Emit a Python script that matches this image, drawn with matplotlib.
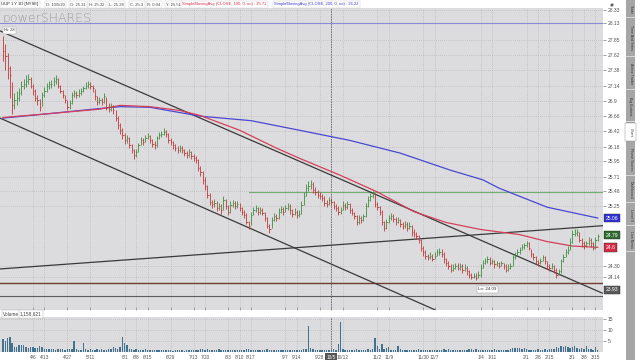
import numpy as np
import pandas as pd
import matplotlib
matplotlib.use('Agg')
import matplotlib.pyplot as plt
import matplotlib.transforms as mtransforms
from matplotlib.patches import Rectangle, FancyArrowPatch

# ---- data (UUP daily, Mar 2020 - Mar 2021) ----
dates = pd.bdate_range('2020-03-18', periods=260)

close = [27.69, 27.61, 27.41, 27.30, 26.83, 26.91, 26.94, 27.03, 27.14, 27.16,
         27.22, 27.25, 27.14, 27.06, 26.95, 26.91, 26.80, 26.99, 27.06, 27.13,
         27.16, 27.17, 27.22, 27.24, 27.14, 27.06, 26.99, 26.91, 26.81, 26.86,
         26.99, 27.02, 26.99, 27.03, 27.06, 27.10, 27.14, 27.16, 27.13, 27.10,
         26.97, 26.88, 26.91, 26.88, 26.97, 26.81, 26.78, 26.81, 26.75, 26.63,
         26.52, 26.44, 26.36, 26.28, 26.31, 26.20, 26.13, 26.05, 26.10, 26.20,
         26.28, 26.25, 26.31, 26.35, 26.28, 26.22, 26.20, 26.31, 26.36, 26.38,
         26.41, 26.38, 26.28, 26.25, 26.20, 26.16, 26.13, 26.16, 26.13, 26.08,
         26.05, 26.10, 26.03, 26.00, 25.97, 25.84, 25.78, 25.66, 25.56, 25.42,
         25.31, 25.28, 25.30, 25.22, 25.25, 25.19, 25.34, 25.25, 25.16, 25.27,
         25.30, 25.25, 25.28, 25.22, 25.16, 25.11, 25.00, 24.94, 25.11, 25.19,
         25.22, 25.16, 25.19, 25.14, 25.06, 24.94, 24.88, 25.03, 25.09, 25.06,
         25.16, 25.20, 25.16, 25.22, 25.25, 25.19, 25.13, 25.16, 25.11, 25.13,
         25.27, 25.41, 25.53, 25.56, 25.59, 25.50, 25.47, 25.42, 25.41, 25.38,
         25.30, 25.28, 25.34, 25.31, 25.25, 25.22, 25.16, 25.19, 25.27, 25.23,
         25.28, 25.19, 25.14, 25.09, 25.00, 25.06, 25.03, 25.09, 25.25, 25.34,
         25.41, 25.44, 25.28, 25.23, 25.16, 25.00, 24.91, 25.00, 25.06, 25.09,
         25.05, 25.00, 25.03, 24.97, 24.94, 24.97, 24.91, 24.94, 24.84, 24.81,
         24.78, 24.72, 24.59, 24.53, 24.47, 24.44, 24.47, 24.42, 24.47, 24.52,
         24.53, 24.50, 24.41, 24.35, 24.31, 24.25, 24.28, 24.31, 24.28, 24.30,
         24.25, 24.28, 24.22, 24.16, 24.13, 24.15, 24.12, 24.16, 24.28, 24.35,
         24.38, 24.41, 24.36, 24.38, 24.33, 24.35, 24.31, 24.35, 24.30, 24.25,
         24.28, 24.31, 24.44, 24.47, 24.53, 24.56, 24.61, 24.63, 24.66, 24.59,
         24.49, 24.44, 24.38, 24.35, 24.39, 24.44, 24.38, 24.31, 24.28, 24.31,
         24.25, 24.17, 24.22, 24.38, 24.44, 24.53, 24.56, 24.69, 24.81, 24.83,
         24.84, 24.72, 24.66, 24.63, 24.66, 24.72, 24.66, 24.59, 24.72, 24.77]

high = [27.92, 27.80, 27.66, 27.45, 27.20, 27.02, 27.05, 27.10, 27.22, 27.25,
        27.30, 27.33, 27.27, 27.16, 27.08, 26.99, 26.93, 27.04, 27.12, 27.18,
        27.22, 27.23, 27.27, 27.30, 27.26, 27.15, 27.07, 27.00, 26.92, 26.92,
        27.04, 27.07, 27.05, 27.08, 27.11, 27.14, 27.19, 27.21, 27.19, 27.15,
        27.08, 26.97, 26.96, 26.94, 27.02, 26.96, 26.86, 26.86, 26.83, 26.76,
        26.66, 26.55, 26.47, 26.40, 26.36, 26.33, 26.23, 26.14, 26.14, 26.24,
        26.33, 26.32, 26.36, 26.40, 26.37, 26.30, 26.27, 26.35, 26.41, 26.43,
        26.47, 26.45, 26.39, 26.31, 26.27, 26.23, 26.19, 26.21, 26.19, 26.15,
        26.11, 26.14, 26.12, 26.07, 26.04, 25.98, 25.88, 25.80, 25.70, 25.58,
        25.45, 25.35, 25.36, 25.32, 25.30, 25.28, 25.40, 25.36, 25.26, 25.32,
        25.35, 25.33, 25.33, 25.30, 25.24, 25.18, 25.14, 25.02, 25.16, 25.24,
        25.27, 25.24, 25.24, 25.22, 25.16, 25.08, 24.97, 25.08, 25.14, 25.12,
        25.21, 25.25, 25.23, 25.27, 25.30, 25.28, 25.20, 25.21, 25.18, 25.18,
        25.33, 25.47, 25.60, 25.64, 25.66, 25.62, 25.55, 25.50, 25.47, 25.44,
        25.40, 25.34, 25.39, 25.37, 25.33, 25.28, 25.25, 25.24, 25.32, 25.30,
        25.33, 25.30, 25.22, 25.16, 25.11, 25.11, 25.09, 25.13, 25.30, 25.40,
        25.46, 25.49, 25.45, 25.31, 25.25, 25.18, 25.02, 25.05, 25.11, 25.14,
        25.12, 25.07, 25.08, 25.04, 25.00, 25.02, 24.99, 24.99, 24.95, 24.88,
        24.84, 24.79, 24.73, 24.62, 24.55, 24.50, 24.52, 24.49, 24.52, 24.57,
        24.59, 24.57, 24.52, 24.43, 24.38, 24.33, 24.33, 24.36, 24.35, 24.35,
        24.33, 24.33, 24.30, 24.25, 24.20, 24.20, 24.19, 24.22, 24.33, 24.40,
        24.43, 24.46, 24.44, 24.42, 24.40, 24.39, 24.37, 24.39, 24.36, 24.33,
        24.33, 24.36, 24.48, 24.52, 24.57, 24.60, 24.65, 24.67, 24.70, 24.68,
        24.58, 24.51, 24.46, 24.40, 24.43, 24.48, 24.46, 24.39, 24.34, 24.35,
        24.32, 24.27, 24.26, 24.42, 24.50, 24.58, 24.62, 24.74, 24.87, 24.89,
        24.89, 24.84, 24.74, 24.70, 24.70, 24.76, 24.74, 24.68, 24.76, 24.81]

low = [27.52, 27.38, 27.25, 26.95, 26.70, 26.78, 26.84, 26.90, 27.00, 27.08,
       27.12, 27.16, 27.10, 27.00, 26.90, 26.84, 26.74, 26.82, 26.96, 27.04,
       27.08, 27.10, 27.14, 27.17, 27.10, 27.02, 26.94, 26.86, 26.76, 26.78,
       26.85, 26.96, 26.94, 26.96, 27.00, 27.04, 27.08, 27.10, 27.08, 27.04,
       26.92, 26.84, 26.85, 26.83, 26.86, 26.76, 26.72, 26.74, 26.70, 26.58,
       26.46, 26.38, 26.30, 26.22, 26.24, 26.16, 26.08, 25.98, 26.02, 26.10,
       26.20, 26.21, 26.26, 26.30, 26.24, 26.17, 26.15, 26.18, 26.30, 26.33,
       26.36, 26.34, 26.24, 26.20, 26.15, 26.11, 26.08, 26.10, 26.08, 26.04,
       26.00, 26.02, 25.99, 25.95, 25.92, 25.80, 25.72, 25.60, 25.50, 25.38,
       25.26, 25.22, 25.24, 25.17, 25.19, 25.13, 25.18, 25.20, 25.11, 25.14,
       25.24, 25.20, 25.22, 25.17, 25.11, 25.06, 24.96, 24.88, 24.95, 25.10,
       25.16, 25.11, 25.13, 25.10, 25.01, 24.90, 24.82, 24.90, 25.02, 25.01,
       25.05, 25.14, 25.11, 25.15, 25.19, 25.13, 25.08, 25.10, 25.06, 25.08,
       25.12, 25.26, 25.40, 25.49, 25.52, 25.45, 25.42, 25.37, 25.36, 25.33,
       25.25, 25.23, 25.27, 25.26, 25.20, 25.17, 25.11, 25.13, 25.18, 25.18,
       25.20, 25.14, 25.10, 25.04, 24.95, 24.97, 24.98, 25.02, 25.08, 25.24,
       25.33, 25.37, 25.24, 25.18, 25.10, 24.95, 24.85, 24.89, 24.98, 25.03,
       25.00, 24.95, 24.98, 24.92, 24.89, 24.91, 24.86, 24.88, 24.78, 24.76,
       24.73, 24.66, 24.54, 24.47, 24.42, 24.40, 24.42, 24.38, 24.41, 24.46,
       24.48, 24.45, 24.36, 24.30, 24.26, 24.21, 24.23, 24.26, 24.24, 24.25,
       24.20, 24.23, 24.17, 24.12, 24.10, 24.11, 24.09, 24.11, 24.14, 24.28,
       24.33, 24.36, 24.32, 24.33, 24.28, 24.30, 24.27, 24.30, 24.26, 24.21,
       24.23, 24.26, 24.30, 24.42, 24.46, 24.50, 24.55, 24.58, 24.61, 24.55,
       24.45, 24.40, 24.33, 24.30, 24.34, 24.38, 24.33, 24.26, 24.23, 24.26,
       24.20, 24.12, 24.16, 24.20, 24.37, 24.45, 24.50, 24.55, 24.66, 24.77,
       24.78, 24.68, 24.60, 24.58, 24.60, 24.64, 24.60, 24.55, 24.58, 24.70]

volume = [5.9, 5.1, 6.4, 7.0, 4.3, 2.3, 2.5, 3.3, 3.0, 3.4,
          2.2, 1.9, 2.4, 2.1, 1.8, 2.0, 2.8, 2.2, 1.3, 1.2,
          1.5, 1.2, 1.4, 1.1, 1.3, 1.6, 1.2, 1.0, 1.4, 1.2,
          1.3, 5.1, 1.2, 1.0, 1.1, 4.3, 1.3, 1.0, 1.2, 1.1,
          0.9, 1.2, 1.0, 1.4, 1.1, 0.9, 1.3, 1.6, 2.2, 1.8,
          1.5, 2.4, 7.0, 4.3, 3.4, 1.6, 1.2, 1.0, 1.3, 1.1,
          1.0, 0.9, 1.2, 0.8, 1.0, 1.1, 0.9, 0.7, 1.0, 0.8,
          0.9, 0.7, 0.8, 1.0, 0.6, 0.8, 0.9, 0.7, 0.8, 0.6,
          0.7, 0.9, 0.8, 1.0, 0.9, 1.1, 1.2, 1.4, 1.0, 1.3,
          1.1, 0.9, 1.0, 0.8, 1.2, 0.9, 1.0, 0.8, 1.1, 0.9,
          0.8, 1.0, 0.9, 1.1, 0.8, 1.0, 1.3, 1.2, 0.9, 0.8,
          0.9, 0.7, 0.8, 1.0, 0.9, 1.2, 1.1, 0.9, 0.8, 0.7,
          0.9, 0.8, 1.0, 0.7, 0.8, 0.9, 0.7, 1.0, 0.8, 1.1,
          1.0, 1.3, 1.5, 12.0, 1.8, 1.2, 1.0, 0.9, 1.1, 0.8,
          0.9, 0.7, 1.0, 0.8, 1.2, 0.9, 3.5, 13.6, 1.4, 1.0,
          0.8, 0.9, 1.1, 0.7, 1.2, 0.8, 0.9, 1.0, 0.7, 1.3,
          1.0, 1.4, 6.4, 2.8, 1.6, 3.6, 1.2, 2.0, 2.2, 1.0,
          0.9, 1.1, 2.8, 1.3, 0.8, 0.9, 0.7, 0.8, 1.0, 0.7,
          0.9, 1.2, 1.0, 1.1, 0.8, 0.9, 1.0, 0.7, 0.8, 1.1,
          0.9, 1.0, 1.2, 0.8, 1.3, 1.0, 0.9, 1.1, 0.8, 1.0,
          0.9, 1.1, 1.0, 1.3, 1.2, 1.0, 1.4, 1.1, 0.9, 1.0,
          0.8, 1.1, 0.9, 1.0, 1.2, 0.8, 1.0, 0.9, 1.1, 0.8,
          1.0, 1.3, 1.9, 1.8, 2.0, 1.7, 1.6, 1.9, 1.5, 1.0,
          0.9, 1.0, 0.8, 1.2, 0.9, 1.1, 1.3, 1.0, 1.6, 1.2,
          1.4, 2.1, 1.8, 2.6, 2.2, 2.8, 2.4, 1.9, 2.2, 2.6,
          1.7, 1.5, 2.0, 1.3, 2.8, 1.6, 1.2, 1.0, 2.5, 1.1]

# moving averages, sampled along the drawn curves (bar index, price)
sma100_idx = [0, 20, 42, 51, 64, 77, 86, 103, 119, 129, 147, 163, 179, 193, 208, 225, 237, 248, 259]
sma100_val = [26.64, 26.70, 26.77, 26.83, 26.81, 26.75, 26.67, 26.44, 26.16, 26.00,
              25.73, 25.47, 25.16, 24.99, 24.88, 24.80, 24.69, 24.62, 24.60]
sma200_idx = [0, 20, 42, 51, 64, 86, 108, 129, 151, 173, 195, 209, 216, 237, 259]
sma200_val = [26.63, 26.70, 26.78, 26.81, 26.80, 26.66, 26.59, 26.44, 26.28, 26.08,
              25.81, 25.66, 25.53, 25.23, 25.06]

# drawn trend lines (bar index pairs, price pairs)
channel_top_idx, channel_top_val = [-1.3, 261], [28.00, 23.88]
channel_low_idx, channel_low_val = [-1.3, 188], [26.63, 23.62]
rising_idx, rising_val = [-1.3, 261.3], [24.26, 24.94]
green_from, green_level = 107, 25.47
brown_level = 24.04
gray_level = 23.84
hi_level = 28.13
lo_idx, lo_val = 206, 24.09

label_dates = ['2020-04-06', '2020-04-13', '2020-04-27', '2020-05-11', '2020-06-01',
               '2020-06-08', '2020-06-15', '2020-06-29', '2020-07-13', '2020-07-20',
               '2020-08-03', '2020-08-10', '2020-08-17', '2020-09-07', '2020-09-14',
               '2020-09-28', '2020-10-05', '2020-10-12', '2020-11-02', '2020-11-09',
               '2020-11-30', '2020-12-07', '2021-01-04', '2021-01-11', '2021-02-01',
               '2021-02-08', '2021-02-15', '2021-03-01', '2021-03-08', '2021-03-15']
label_text = ['4/6', '4/13', '4/27', '5/11', '6/1', '6/8', '6/15', '6/29', '7/13', '7/20',
              '8/3', '8/10', '8/17', '9/7', '9/14', '9/28', '10/5', '10/12', '11/2', '11/9',
              '11/30', '12/7', '1/4', '1/11', '2/1', '2/8', '2/15', '3/1', '3/8', '3/15']
cursor_date = '2020-10-05'

price_ticks = [28.33, 28.13, 27.85, 27.62, 27.38, 27.14, 26.9, 26.66, 26.42, 26.18,
               25.95, 25.71, 25.48, 25.25, 24.30, 24.14]
price_tick_labels = ['28.33', '28.13', '27.85', '27.62', '27.38', '27.14', '26.9', '26.66',
                     '26.42', '26.18', '25.95', '25.71', '25.48', '25.25', '24.30', '24.14']
badge_vals = [25.06, 24.79, 24.60, 23.93]
badge_text = ['25.06', '24.79', '24.6', '23.93']
badge_cols = ['#3232d6', '#2f6a2f', '#d42c44', '#5a5a5a']
vol_ticks = [5, 10, 15]

header = [('UUP 1 Y 1D [NYSE]', 1, '#222222'), ('D: 10/5/20', 46, '#444444'),
          ('O: 25.31', 70, '#444444'), ('H: 25.32', 89, '#444444'),
          ('L: 25.28', 109, '#444444'), ('C: 25.3', 130, '#444444'),
          ('R: 0.04', 147, '#444444'), ('Y: 25.51', 166, '#444444'),
          ('SimpleMovingAvg (CLOSE, 100, 0, no) : 25.71', 182, '#d03048'),
          ('SimpleMovingAvg (CLOSE, 200, 0, no) : 26.22', 274, '#3a3ad0')]
tabs = [('Trade', 2, 18), ('Time And Sales', 19, 57), ('Active Trader', 58, 90),
        ('Big Buttons', 91, 122), ('Chart', 123, 141), ('Phase Scores', 142, 176),
        ('Dashboard', 177, 203), ('Level II', 204, 226), ('Live News', 227, 252)]

# ---- figure ----
plt.rcParams['font.family'] = ['Liberation Sans', 'DejaVu Sans']
W, H = 640, 360
fig = plt.figure(figsize=(6.4, 3.6), dpi=100)
fig.patch.set_facecolor('white')

def fx(px):
    return px / W

def fy(py):
    return 1 - py / H

panel_bg = '#dcdcde'
grid_kw = dict(color='#aeaeb2', linestyle=(0, (1, 2)), linewidth=0.5)

ax = fig.add_axes([0, fy(310), fx(603), (310 - 8) / H])
axv = fig.add_axes([0, fy(352), fx(603), (352 - 317) / H], sharex=ax)
for a in (ax, axv):
    a.set_facecolor(panel_bg)
    for s in a.spines.values():
        s.set_visible(False)

x = np.arange(len(close))
cl = np.array(close)
up = np.r_[False, cl[1:] >= cl[:-1]]
cols = np.where(up, '#3f8f3f', '#c23838')

label_idx = dates.searchsorted(pd.to_datetime(label_dates))
cursor_idx = dates.searchsorted(pd.Timestamp(cursor_date))

# grid
for a in (ax, axv):
    for xi in label_idx:
        a.axvline(xi, zorder=0, **grid_kw)
for t in price_ticks:
    ax.axhline(t, zorder=0, **grid_kw)
for t in vol_ticks:
    axv.axhline(t, zorder=0, **grid_kw)
for a in (ax, axv):
    a.axvline(cursor_idx, color='#6a6a70', lw=0.6, ls=(0, (2, 1)), zorder=1)

# levels and trend lines
ax.axhline(hi_level, color='#8a8ad8', lw=0.8, zorder=2)
ax.axhline(brown_level, color='#6e3f30', lw=1.0, zorder=2)
ax.axhline(gray_level, color='#5c5c5c', lw=0.8, zorder=2)
ax.plot([green_from, x[-1] + 2], [green_level, green_level], color='#6fae6f', lw=0.8, zorder=2)
ax.plot(channel_top_idx, channel_top_val, color='#3a3a3a', lw=0.9, zorder=2)
ax.plot(channel_low_idx, channel_low_val, color='#3a3a3a', lw=0.9, zorder=2)
ax.plot(rising_idx, rising_val, color='#3a3a3a', lw=0.9, zorder=2)

# moving averages
ax.plot(sma200_idx, sma200_val, color='#4848d4', lw=0.9, zorder=3)
ax.plot(sma100_idx, sma100_val, color='#d4405c', lw=0.9, zorder=3)

# OHLC bars (high-low + close tick)
ax.vlines(x, low, high, colors=cols, lw=0.6, zorder=4)
ax.hlines(close, x, x + 0.55, colors=cols, lw=0.6, zorder=4)

ax.set_xlim(-1.3, 261.3)
ax.set_ylim(23.615, 28.36)

ax.yaxis.tick_right()
ax.set_yticks(price_ticks)
ax.set_yticklabels(price_tick_labels)
ax.tick_params(axis='y', labelsize=3.6, colors='#555555', length=2, width=0.4, pad=1.5)
ax.set_xticks(label_idx)
ax.tick_params(axis='x', direction='in', length=2, width=0.4, colors='#777777',
               labelbottom=False)

# price badges on the right axis
btrans = mtransforms.blended_transform_factory(ax.transAxes, ax.transData)
for v, t, c in zip(badge_vals, badge_text, badge_cols):
    ax.text(1.004, v, t, transform=btrans, fontsize=3.6, color='white', ha='left',
            va='center', clip_on=False, zorder=6,
            bbox=dict(boxstyle='square,pad=0.35', fc=c, ec='#222222', lw=0.3))

# Hi / Lo labels
ax.text(0.6, hi_level - 0.12, 'Hi: 28', fontsize=3.0, color='#333333', va='center',
        ha='left', zorder=6,
        bbox=dict(boxstyle='square,pad=0.3', fc='white', ec='#999999', lw=0.3))
ax.text(lo_idx + 1, lo_val - 0.15, 'Lo: 24.09', fontsize=3.2, color='#333333',
        va='center', ha='left', zorder=6,
        bbox=dict(boxstyle='square,pad=0.3', fc='white', ec='#999999', lw=0.3))

# volume
axv.bar(x, volume, width=0.6, color='#43728f', zorder=3)
axv.set_ylim(0, 16)
axv.yaxis.tick_right()
axv.set_yticks(vol_ticks)
axv.tick_params(axis='y', labelsize=3.6, colors='#555555', length=2, width=0.4, pad=1.5)
axv.set_xticks(label_idx)
axv.set_xticklabels(label_text)
axv.tick_params(axis='x', labelsize=3.4, colors='#555555', length=0, pad=2)
for lab, d in zip(axv.get_xticklabels(), label_dates):
    if d == cursor_date:
        lab.set_color('white')
        lab.set_bbox(dict(boxstyle='square,pad=0.3', fc='#555555', ec='none'))

fig.text(fx(3), fy(314), 'Volume', fontsize=3.4, color='#444444', va='center',
         bbox=dict(boxstyle='square,pad=0.3', fc='white', ec='#aaaaaa', lw=0.3))
fig.text(fx(20), fy(314), '1,158,621', fontsize=3.4, color='#444444', va='center',
         bbox=dict(boxstyle='square,pad=0.3', fc='white', ec='#aaaaaa', lw=0.3))

# watermark
fig.text(fx(3), fy(18.5), 'powerSHARES', fontsize=9.0, color='#9c9ca2', va='center',
         family='DejaVu Sans', fontweight='light')

# header
for t, px, c in header:
    fig.text(fx(px), fy(4.5), t, fontsize=3.0, color=c, va='center', ha='left',
             bbox=dict(boxstyle='square,pad=0.35', fc='white', ec='#c8c8c8', lw=0.3))

# expand icon (no installed font has the glyph, so draw it as a double arrow)
fig.patches.append(FancyArrowPatch((fx(608.5), fy(8.5)), (fx(615.5), fy(1.5)),
                                   transform=fig.transFigure, arrowstyle='<->,head_length=1.2,head_width=0.8',
                                   color='#555555', lw=0.6))

# side tab strip
fig.patches.append(Rectangle((fx(626), 0), fx(9), 1, transform=fig.transFigure,
                             fc='#a6a6a6', ec='none', zorder=0))
for name, y0, y1 in tabs:
    if name == 'Chart':
        fig.patches.append(Rectangle((fx(625), fy(y1)), fx(11), (y1 - y0) / H,
                                     transform=fig.transFigure, fc='white',
                                     ec='#888888', lw=0.3, zorder=1))
    else:
        fig.patches.append(Rectangle((fx(626), fy(y1)), fx(9), 1 / H,
                                     transform=fig.transFigure, fc='#d8d8d8',
                                     ec='none', zorder=1))
    fig.text(fx(630.5), fy((y0 + y1) / 2), name, fontsize=2.6, rotation=270,
             color='#333333', ha='center', va='center')

fig.savefig('out.png', dpi=100)
